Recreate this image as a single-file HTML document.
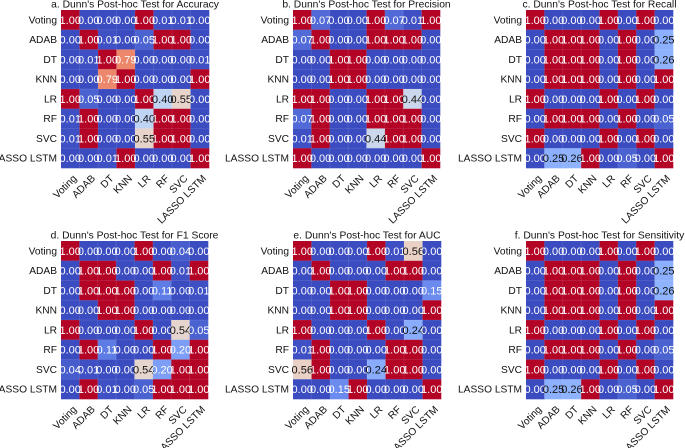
<!DOCTYPE html>
<html><head><meta charset="utf-8">
<style>
html,body{margin:0;padding:0;background:#fff;}
svg{display:block;font-family:"Liberation Sans",sans-serif;}
</style></head>
<body>
<svg id="chart" width="685" height="448" viewBox="0 0 685 448" xmlns="http://www.w3.org/2000/svg"></svg>
<script>
const models = ["Voting","ADAB","DT","KNN","LR","RF","SVC","LASSO LSTM"];
const titles = ["a. Dunn's Post-hoc Test for Accuracy","b. Dunn's Post-hoc Test for Precision","c. Dunn's Post-hoc Test for Recall","d. Dunn's Post-hoc Test for F1 Score","e. Dunn's Post-hoc Test for AUC","f. Dunn's Post-hoc Test for Sensitivity"];
const accuracy = [
[1,0,0,0,1,0.01,0.01,0],
[0,1,0.01,0,0.05,1,1,0],
[0,0.01,1,0.79,0,0,0,0.01],
[0,0,0.79,1,0,0,0,1],
[1,0.05,0,0,1,0.40,0.55,0],
[0.01,1,0,0,0.40,1,1,0],
[0.01,1,0,0,0.55,1,1,0],
[0,0,0.01,1,0,0,0,1]];
const precision = [
[1,0.07,0,0,1,0.07,0.01,1],
[0.07,1,0,0,1,1,1,0],
[0,0,1,1,0,0,0,0],
[0,0,1,1,0,0,0,0],
[1,1,0,0,1,1,0.44,0],
[0.07,1,0,0,1,1,1,0],
[0.01,1,0,0,0.44,1,1,0],
[1,0,0,0,0,0,0,1]];
const recall = [
[1,0,0,0,1,0,1,0],
[0,1,1,1,0,1,0,0.25],
[0,1,1,1,0,1,0,0.26],
[0,1,1,1,0,1,0,1],
[1,0,0,0,1,0,1,0],
[0,1,1,1,0,1,0,0.05],
[1,0,0,0,1,0,1,0],
[0,0.25,0.26,1,0,0.05,0,1]];
const f1 = [
[1,0,0,0,1,0,0.04,0],
[0,1,1,0,0,1,0.01,1],
[0,1,1,1,0,0.11,0,0.01],
[0,0,1,1,0,0,0,0],
[1,0,0,0,1,0,0.54,0.05],
[0,1,0.11,0,0,1,0.20,1],
[0.04,0.01,0,0,0.54,0.20,1,1],
[0,1,0.01,0,0.05,1,1,1]];
const auc = [
[1,0,0,0,1,0.01,0.56,0],
[0,1,0,0,0,1,1,0],
[0,0,1,1,0,0,0,0.15],
[0,0,1,1,0,0,0,1],
[1,0,0,0,1,0,0.24,0],
[0.01,1,0,0,0,1,1,0],
[0.56,1,0,0,0.24,1,1,0],
[0,0,0.15,1,0,0,0,1]];
const sensitivity = [
[1,0,0,0,1,0,1,0],
[0,1,1,1,0,1,0,0.25],
[0,1,1,1,0,1,0,0.26],
[0,1,1,1,0,1,0,1],
[1,0,0,0,1,0,1,0],
[0,1,1,1,0,1,0,0.05],
[1,0,0,0,1,0,1,0],
[0,0.25,0.26,1,0,0.05,0,1]];
const matrices = [accuracy,precision,recall,f1,auc,sensitivity];
const panelNames = ["accuracy","precision","recall","f1-score","auc","sensitivity"];

const layout = [
 {x:61,y:10,w:148,h:158},{x:293,y:10,w:147,h:158},{x:526,y:10,w:147,h:158},
 {x:61,y:241,w:147,h:158},{x:293,y:241,w:148,h:158},{x:526,y:241,w:147,h:158}];

const stops=[[0,[59,76,192]],[0.125,[98,130,234]],[0.25,[141,176,254]],[0.375,[184,208,249]],[0.5,[221,221,221]],[0.625,[245,196,173]],[0.75,[244,154,123]],[0.875,[222,96,77]],[1,[180,4,38]]];
function cmap(v){
  for(let i=0;i<stops.length-1;i++){
    const [a,ca]=stops[i],[b,cb]=stops[i+1];
    if(v<=b){const t=(v-a)/(b-a);return `rgb(${ca.map((c,k)=>Math.round(c+(cb[k]-c)*t)).join(',')})`;}
  }
  return 'rgb(180,4,38)';
}
const NS="http://www.w3.org/2000/svg";
const svg=document.getElementById('chart');
function mk(tag,attrs,parent){const e=document.createElementNS(NS,tag);for(const k in attrs)e.setAttribute(k,attrs[k]);(parent||svg).appendChild(e);return e;}

matrices.forEach((m,p)=>{
  const L=layout[p];
  const g=mk('g',{});
  
  
  const n=models.length, cw=L.w/n, ch=L.h/n;
  const xs=i=>L.x+i*cw, ys=j=>L.y+j*ch;
  const t=mk('text',{x:L.x+L.w/2,y:L.y-2.5,'text-anchor':'middle','font-size':'10.3',fill:'#111'},g);
  t.textContent=titles[p];
  
  
  for(let r=0;r<n;r++){
    for(let c=0;c<n;c++){
      const v=m[r][c];
      const rect=mk('rect',{x:xs(c),y:ys(r),width:cw+0.3,height:ch+0.3,fill:cmap(v)},g);
      
      
    }
  }
  for(let k=1;k<n;k++){
    mk('line',{x1:xs(k),x2:xs(k),y1:L.y,y2:L.y+L.h,stroke:'rgba(255,255,255,0.12)','stroke-width':0.8},g);
    mk('line',{x1:L.x,x2:L.x+L.w,y1:ys(k),y2:ys(k),stroke:'rgba(255,255,255,0.12)','stroke-width':0.8},g);
  }
  for(let r=0;r<n;r++){
    for(let c=0;c<n;c++){
      const v=m[r][c];
      const lt=mk('text',{x:xs(c)+cw/2,y:ys(r)+ch/2+3.9,'text-anchor':'middle','font-size':'11',fill:(v>0.22&&v<0.75)?'#111':'#fff'},g);
      lt.textContent=v.toFixed(2);
      
      
    }
  }
  models.forEach((name,r)=>{
    const yl=mk('text',{x:L.x-4,y:ys(r)+ch/2+3.6,'text-anchor':'end','font-size':'10.2',fill:'#111'},g);
    yl.textContent=name;
    
    
  });
  models.forEach((name,c)=>{
    const cx=xs(c)+cw/2+7, cy=L.y+L.h+11;
    const xl=mk('text',{x:cx,y:cy,'text-anchor':'end','font-size':'10.2',fill:'#111',transform:`rotate(-45 ${cx} ${cy})`},g);
    xl.textContent=name;
    
    
  });
});
</script>
</body></html>
